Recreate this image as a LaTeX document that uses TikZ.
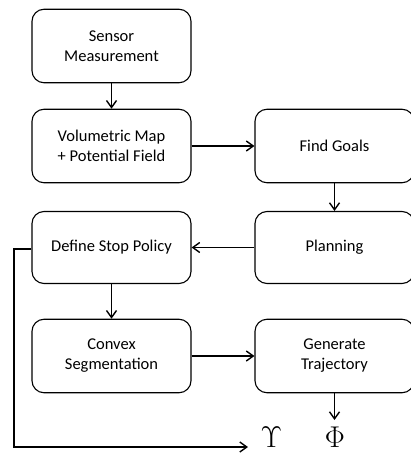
\documentclass[tikz,border=0pt]{standalone}
\usepackage{fix-cm}
\usepackage{fontspec}
\setmainfont{Carlito}
\usetikzlibrary{arrows.meta}
\begin{document}
\begin{tikzpicture}[x=1pt,y=-1pt,
  box/.style={draw, line width=1.1pt, rounded corners=12pt, minimum width=159pt, minimum height=73.5pt, align=center, inner sep=0pt, font=\fontsize{16.5}{20}\selectfont},
  conn/.style={line width=1.4pt, -{Straight Barb[length=7pt,width=10pt,line width=1.4pt]}},
  sym/.style={inner sep=0pt, font=\fontsize{30}{36}\selectfont, anchor=base}]
\useasboundingbox (0,0) rectangle (411,454);
\node[box] (sensor) at (111.5,46) {Sensor\\Measurement};
\node[box] (vol) at (111.5,146) {Volumetric Map\\+ Potential Field};
\node[box] (goals) at (334.5,146) {Find Goals};
\node[box, minimum height=72pt] (plan) at (334.5,247.5) {Planning};
\node[box, minimum height=72pt] (stop) at (111.5,247.5) {Define Stop Policy};
\node[box] (convex) at (111.5,356) {Convex\\Segmentation};
\node[box] (gen) at (334.5,356) {Generate\\Trajectory};
\node[sym] (ups) at (271.5,447) {$\Upsilon$};
\node[sym] (phi) at (335,447) {$\Phi$};
\coordinate (c1) at (14,249);
\coordinate (c2) at (14,447);
\coordinate (c3) at (248,447);
\coordinate (phitop) at (334.5,420);
\draw[conn] (sensor) -- (vol);
\draw[conn] (vol) -- (goals);
\draw[conn] (goals) -- (plan);
\draw[conn] (plan) -- (stop);
\draw[conn] (stop) -- (convex);
\draw[conn] (convex) -- (gen);
\draw[conn] (gen) -- (phitop);
\draw[conn] (stop.west |- c1) -- (c1) -- (c2) -- (c3);
\end{tikzpicture}
\end{document}
